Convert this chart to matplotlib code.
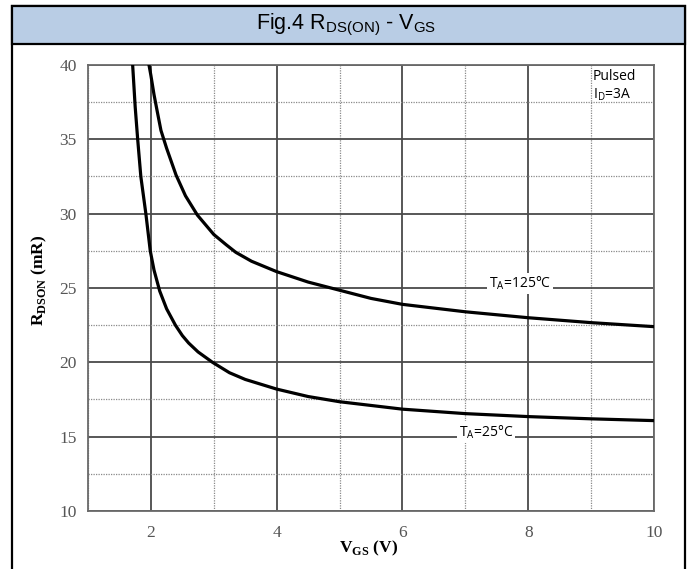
import matplotlib
matplotlib.use('Agg')
import matplotlib.pyplot as plt
from matplotlib.patches import Rectangle
from matplotlib.ticker import MultipleLocator


# ------------------- DATA -------------------
# V_GS [V] vs R_DSON [mOhm]
vgs_25 = [1.71, 1.75, 1.79, 1.84, 1.92, 1.99, 2.05, 2.14, 2.25, 2.39, 2.5, 2.6, 2.75, 2.98,
          3.25, 3.5, 4, 4.5, 5, 6, 7, 8, 9, 10]
rds_25 = [40, 37.2, 35, 32.5, 30, 27.5, 26.2, 24.8, 23.6, 22.5, 21.8, 21.3, 20.7, 20.0,
          19.3, 18.85, 18.2, 17.7, 17.35, 16.85, 16.55, 16.35, 16.2, 16.08]

vgs_125 = [1.97, 2.0, 2.05, 2.1, 2.16, 2.25, 2.4, 2.55, 2.74, 2.9, 3.0, 3.2, 3.35, 3.6,
           4, 4.5, 5, 5.5, 6, 7, 8, 9, 10]
rds_125 = [40, 39.3, 38.0, 36.9, 35.6, 34.4, 32.6, 31.2, 29.9, 29.1, 28.6, 27.9, 27.4, 26.8,
           26.1, 25.4, 24.85, 24.3, 23.9, 23.4, 23.0, 22.67, 22.4]

x_ticks = [2, 4, 6, 8, 10]
y_ticks = [10, 15, 20, 25, 30, 35, 40]

plt.rcParams['mathtext.fontset'] = 'custom'
plt.rcParams['mathtext.rm'] = 'Liberation Sans'
plt.rcParams['mathtext.bf'] = 'Liberation Serif:bold'
plt.rcParams['mathtext.sf'] = 'Open Sans'

W, H = 692, 569
fig = plt.figure(figsize=(W / 100, H / 100), dpi=100)

# ------------------- FRAME + TITLE BAND -------------------
fig.patches.append(Rectangle((12 / W, -0.02), 673 / W, 1.02 - 6 / H, transform=fig.transFigure,
                             fill=False, edgecolor='black', linewidth=1.6))
fig.patches.append(Rectangle((12 / W, 1 - 44 / H), 673 / W, 38 / H, transform=fig.transFigure,
                             facecolor='#b9cde5', edgecolor='black', linewidth=1.6))
fig.text(346 / W, 1 - 25 / H, r'Fig.4 R$_\mathrm{DS(ON)}$ - V$_\mathrm{GS}$',
         family='Liberation Sans', fontsize=15.5, ha='center', va='center')

# ------------------- PLOT -------------------
ax = fig.add_axes([88 / W, 1 - 511 / H, 566 / W, 446 / H])
ax.plot(vgs_25, rds_25, color='black', lw=2.3, zorder=4, solid_joinstyle='round')
ax.plot(vgs_125, rds_125, color='black', lw=2.3, zorder=4, solid_joinstyle='round')

ax.set_xlim(1, 10)
ax.set_ylim(10, 40)
ax.set_xticks(x_ticks)
ax.set_yticks(y_ticks)
ax.xaxis.set_minor_locator(MultipleLocator(1))
ax.yaxis.set_minor_locator(MultipleLocator(2.5))
ax.grid(which='major', color='#4a4a4a', lw=1.3)
ax.grid(which='minor', color='#8a8a8a', lw=0.9, linestyle=(0, (1, 1)))
ax.set_axisbelow(True)
for s in ax.spines.values():
    s.set_color('#6a6a6a')
    s.set_linewidth(1.3)
ax.tick_params(which='both', length=0)
ax.tick_params(axis='y', pad=8)
ax.tick_params(axis='x', pad=10)
for lab in ax.get_xticklabels() + ax.get_yticklabels():
    lab.set_family('Liberation Serif')
    lab.set_fontsize(12.5)
    lab.set_color('#555555')

ax.set_xlabel(r'V$_\mathbf{GS}$ (V)', family='Liberation Serif', weight='bold', fontsize=12.5)
ax.xaxis.set_label_coords(0.495, -0.063)
ax.set_ylabel(r'R$_\mathbf{DSON}$ (mR)', family='Liberation Serif', weight='bold', fontsize=12.5)
ax.yaxis.set_label_coords(-0.069, 0.516)

# labels sitting on the grid lines
box = dict(facecolor='white', edgecolor='none', pad=1.5)
ax.text(7.87, 25.3, r'T$_\mathsf{A}$=125°C', family='Open Sans', fontsize=10,
        ha='center', va='center', bbox=box, zorder=3)
ax.text(7.33, 15.3, r'T$_\mathsf{A}$=25°C', family='Open Sans', fontsize=10,
        ha='center', va='center', bbox=box, zorder=3)
ax.text(9.03, 39.75, 'Pulsed\n' + r'I$_\mathsf{D}$=3A', family='Open Sans', fontsize=10,
        ha='left', va='top', linespacing=1.25, zorder=3)

fig.savefig('out.png', dpi=100)
